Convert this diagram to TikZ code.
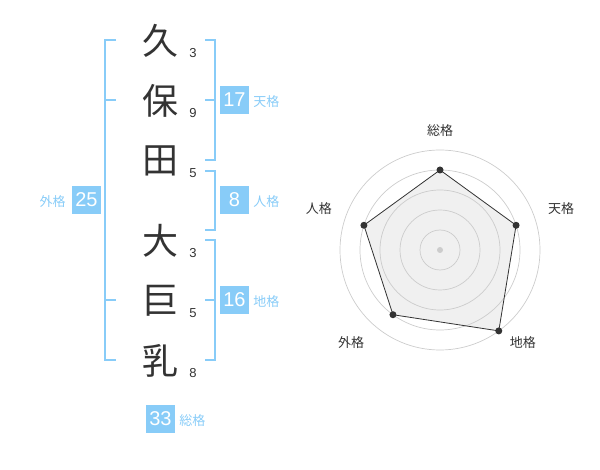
\documentclass[tikz,border=0pt]{standalone}
\usepackage{fontspec}
\setmainfont{Liberation Sans}
\newfontfamily\cjk{Noto Sans CJK JP}
\usepackage{xcolor}
\usepackage{tikz}
\usetikzlibrary{positioning}

\definecolor{kblue}{HTML}{88CCF8}
\definecolor{kdark}{HTML}{333333}
\definecolor{kring}{HTML}{CCCCCC}
\definecolor{kfill}{HTML}{F0F0F0}

\tikzset{
  kanji/.style={inner sep=0pt, text=kdark, font=\cjk\fontsize{36}{36}\selectfont},
  strokes/.style={inner sep=0pt, text=kdark, font=\fontsize{13}{13}\selectfont},
  kakubox/.style={fill=kblue, text=white, minimum width=29pt, minimum height=28pt, inner sep=0pt, font=\fontsize{20}{20}\selectfont},
  kakuname/.style={inner sep=0pt, text=kblue, font=\cjk\fontsize{13}{13}\selectfont},
  brace/.style={draw=kblue, line width=2pt},
  ring/.style={draw=kring, line width=0.7pt},
  radarname/.style={inner sep=0pt, text=kdark, font=\cjk\fontsize{13}{13}\selectfont},
  radardot/.style={shape=circle, fill=kdark, inner sep=0pt, minimum size=7pt}
}

\begin{document}
\begin{tikzpicture}[x=1pt,y=-1pt]
  \useasboundingbox (0,0) rectangle (600,470);

  % name
  \node[kanji] (k1) at (160,41) {久};
  \node[kanji] (k2) at (160,101) {保};
  \node[kanji] (k3) at (160,161) {田};
  \node[kanji] (k4) at (160,241) {大};
  \node[kanji] (k5) at (160,301) {巨};
  \node[kanji] (k6) at (160,361) {乳};

  % stroke counts
  \node[strokes] (s1) at (193,53) {3};
  \node[strokes] (s2) at (193,113) {9};
  \node[strokes] (s3) at (193,173) {5};
  \node[strokes] (s4) at (193,253) {3};
  \node[strokes] (s5) at (193,313) {5};
  \node[strokes] (s6) at (193,373) {8};

  % brackets
  \draw[brace] (116,40) -- (105,40) -- (105,360) -- (116,360);
  \draw[brace] (105,100) -- (116,100);
  \draw[brace] (105,300) -- (116,300);

  \draw[brace] (205,40) -- (215,40) -- (215,160) -- (205,160);
  \draw[brace] (205,100) -- (215,100);

  \draw[brace] (205,171) -- (215,171) -- (215,230) -- (205,230);

  \draw[brace] (205,240) -- (215,240) -- (215,360) -- (205,360);
  \draw[brace] (205,300) -- (215,300);

  % scores
  \node[kakubox] (ten) at (234.5,100) {17};
  \node[kakuname, right=4pt of ten, yshift=-2pt] (tenname) {天格};

  \node[kakubox] (jin) at (234.5,200) {8};
  \node[kakuname, right=4pt of jin, yshift=-2pt] (jinname) {人格};

  \node[kakubox] (chi) at (234.5,300) {16};
  \node[kakuname, right=4pt of chi, yshift=-2pt] (chiname) {地格};

  \node[kakubox] (gai) at (86.5,200) {25};
  \node[kakuname, left=6pt of gai, yshift=-2pt] (gainame) {外格};

  \node[kakubox] (sou) at (160.5,419) {33};
  \node[kakuname, right=4pt of sou, yshift=-2pt] (souname) {総格};

  % radar chart
  \begin{scope}[shift={(440,250)}]
    \node[inner sep=0pt] (c) at (0,0) {};
    \coordinate (p1) at (90:80pt);
    \coordinate (p2) at (18:80pt);
    \coordinate (p3) at (-54:100pt);
    \coordinate (p4) at (-126:80pt);
    \coordinate (p5) at (162:80pt);

    \fill[kfill] (p1) -- (p2) -- (p3) -- (p4) -- (p5) -- cycle;

    \draw[ring] (c) circle (20pt);
    \draw[ring] (c) circle (40pt);
    \draw[ring] (c) circle (60pt);
    \draw[ring] (c) circle (80pt);
    \draw[ring] (c) circle (100pt);

    \draw[kdark, line width=0.8pt] (p1) -- (p2) -- (p3) -- (p4) -- (p5) -- cycle;

    \node[radardot] (d1) at (p1) {};
    \node[radardot] (d2) at (p2) {};
    \node[radardot] (d3) at (p3) {};
    \node[radardot] (d4) at (p4) {};
    \node[radardot] (d5) at (p5) {};
    \node[shape=circle, fill=kring, inner sep=0pt, minimum size=6pt] (mid) at (c) {};

    \node[radarname] (r1) at (90:119pt) {総格};
    \node[radarname] (r2) at (19:128pt) {天格};
    \node[radarname] (r3) at (-48:124pt) {地格};
    \node[radarname] (r4) at (-134:128pt) {外格};
    \node[radarname] (r5) at (161:128pt) {人格};
  \end{scope}

\end{tikzpicture}
\end{document}
